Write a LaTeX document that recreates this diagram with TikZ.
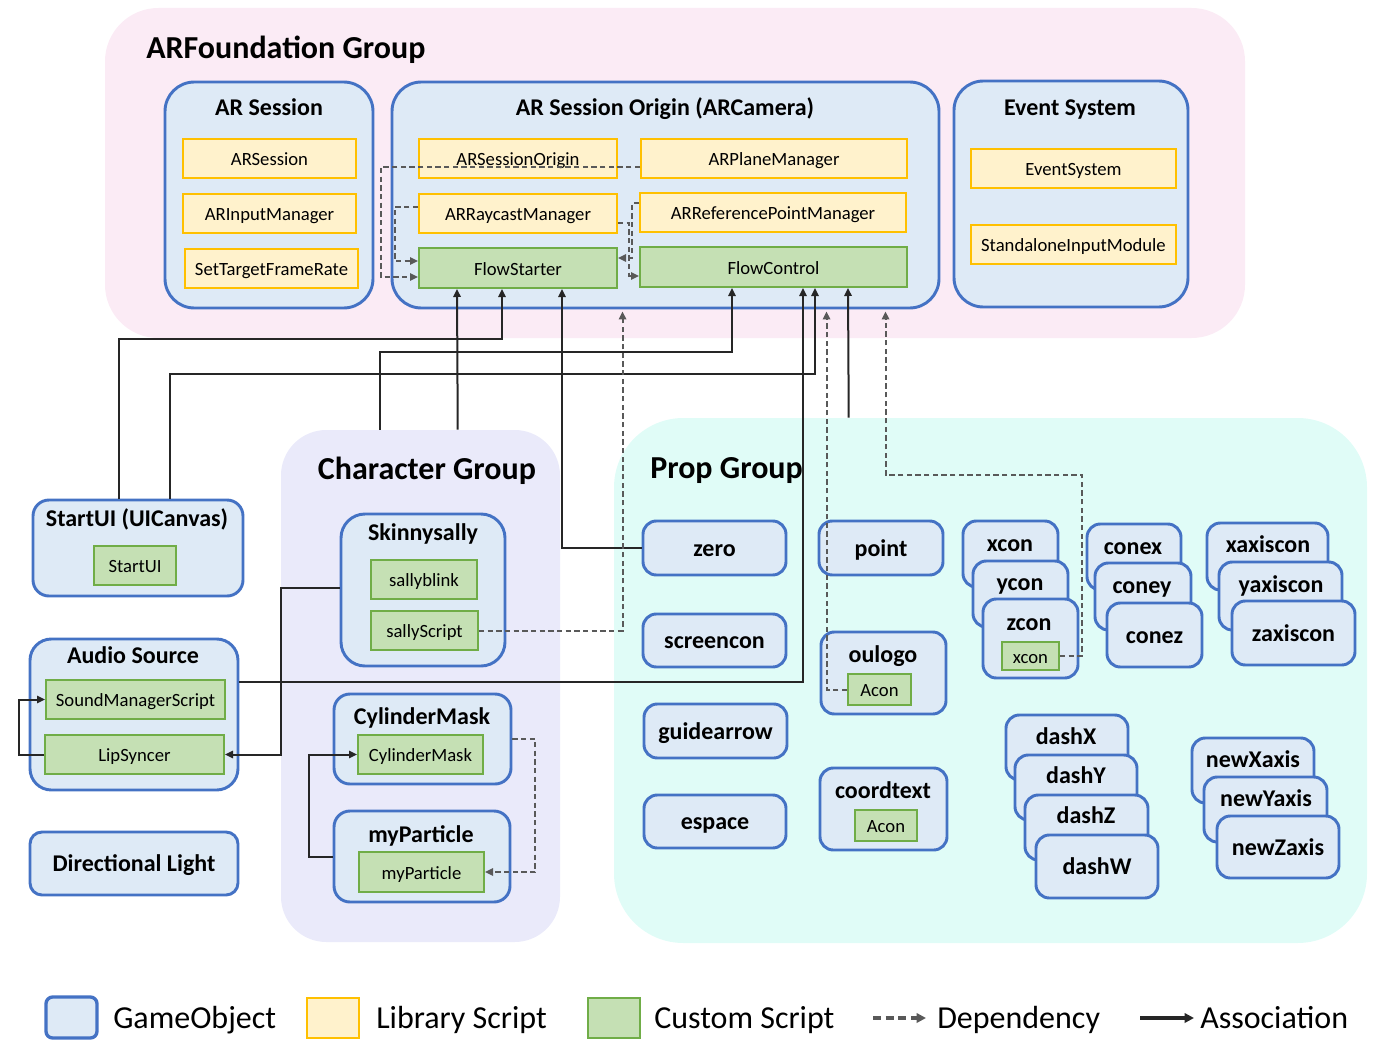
\documentclass[tikz,border=0pt]{standalone}
\usepackage{fontspec}
\setmainfont{Carlito}
\usetikzlibrary{arrows.meta,fit,calc}
\definecolor{pinkbg}{RGB}{251,235,245}
\definecolor{lavbg}{RGB}{234,234,250}
\definecolor{cyanbg}{RGB}{224,252,247}
\definecolor{goF}{RGB}{222,234,246}
\definecolor{goB}{RGB}{68,114,196}
\definecolor{libF}{RGB}{255,242,204}
\definecolor{libB}{RGB}{255,192,0}
\definecolor{cusF}{RGB}{197,224,180}
\definecolor{cusB}{RGB}{112,173,71}
\definecolor{solidc}{RGB}{38,38,38}
\definecolor{dashc}{RGB}{89,89,89}
\newcommand\myttlfont{\fontsize{18pt}{21pt}\selectfont\bfseries}
\newcommand\myscrfont{\fontsize{14pt}{16pt}\selectfont}
\newcommand\mygrpfont{\fontsize{24pt}{28pt}\selectfont\bfseries}
\newcommand\mylegfont{\fontsize{24pt}{28pt}\selectfont}
\tikzset{
  grp/.style={inner sep=0pt, rounded corners=#1},
  gobj/.style={draw=goB, fill=goF, line width=2.2pt, rounded corners=#1, inner sep=0pt},
  gobj/.default=10pt,
  lib/.style={draw=libB, fill=libF, line width=1.5pt, inner sep=0pt},
  cus/.style={draw=cusB, fill=cusF, line width=1.5pt, inner sep=0pt},
  st/.style={font=\myscrfont, inner sep=0pt, text height=12.6pt, text depth=1.4pt},
  tt/.style={font=\myttlfont, inner sep=0pt, text height=15pt, text depth=3pt},
  ttl/.style={font=\myttlfont, anchor=base, yshift=-5.8pt, inner sep=0pt},
  gttl/.style={font=\mygrpfont, anchor=base, yshift=-7.6pt, inner sep=0pt},
  leg/.style={font=\mylegfont, anchor=base west, inner sep=0pt},
  assoc/.style={draw=solidc, line width=1.5pt, -{Triangle[length=6pt,width=5.5pt]}},
  dep/.style={draw=dashc, line width=1.5pt, dash pattern=on 4pt off 2.5pt, -{Triangle[length=6pt,width=5.5pt]}}
}
\begin{document}
\begin{tikzpicture}[x=0.75pt,y=-0.75pt]
\useasboundingbox (0,0) rectangle (1392,1056);
% group backgrounds
\node[grp=40pt, fill=pinkbg, fit={(105,8) (1245,338)}] (arf) {};
\node[grp=34pt, fill=lavbg, fit={(281,430) (560,942)}] (chg) {};
\node[grp=52pt, fill=cyanbg, fit={(614,418) (1367,943)}] (prop) {};
\node[gttl, anchor=base west] (arft) at (146,48) {ARFoundation Group};
\node[gttl] (chgt) at (427,469) {Character Group};
\node[gttl, anchor=base west] (propt) at (650,468) {Prop Group};

% AR Session
\node[gobj=22pt, fit={(165,82) (373,308)}] (arsess) {};
\node[ttl] (arsesst) at (269,108) {AR Session};
\node[lib, fit={(183,139) (356,178)}, label={[st]center:ARSession}] (arsS) {};
\node[lib, fit={(183,194) (356,233)}, label={[st]center:ARInputManager}] (aim) {};
\node[lib, fit={(185,249) (358,288)}, label={[st]center:SetTargetFrameRate}] (stfr) {};

% AR Session Origin
\node[gobj=22pt, fit={(392,82) (939,308)}] (aso) {};
\node[ttl] (asot) at (665,108) {AR Session Origin (ARCamera)};
\node[lib, fit={(419,139) (617,178)}, label={[st]center:ARSessionOrigin}] (asoS) {};
\node[lib, fit={(641,139) (907,178)}, label={[st]center:ARPlaneManager}] (apm) {};
\node[lib, fit={(419,194) (617,233)}, label={[st]center:ARRaycastManager}] (arc) {};
\node[lib, fit={(640,193) (906,232)}, label={[st]center:ARReferencePointManager}] (arp) {};
\node[cus, fit={(419,248) (617,288)}, label={[st]center:FlowStarter}] (fs) {};
\node[cus, fit={(640,247) (907,287)}, label={[st]center:FlowControl}] (fc) {};

% Event System
\node[gobj=22pt, fit={(954,81) (1188,307)}] (evs) {};
\node[ttl] (evst) at (1070,108) {Event System};
\node[lib, fit={(971,149) (1176,188)}, label={[st]center:EventSystem}] (es) {};
\node[lib, fit={(971,225) (1176,264)}, label={[st]center:StandaloneInputModule}] (sim) {};

% StartUI
\node[gobj=12pt, fit={(33,500) (243,596)}] (sui) {};
\node[ttl] (suit) at (137,519) {StartUI (UICanvas)};
\node[cus, fit={(94,546) (176,585)}, label={[st]center:StartUI}] (suiS) {};

% Audio Source
\node[gobj=16pt, fit={(30,639) (238,790)}] (aud) {};
\node[ttl] (audt) at (133,656) {Audio Source};
\node[cus, fit={(46,680) (225,719)}, label={[st]center:SoundManagerScript}] (sms) {};
\node[cus, fit={(45,735) (224,774)}, label={[st]center:LipSyncer}] (lip) {};

% Directional Light
\node[gobj=9pt, fit={(30,832) (238,895)}, label={[tt]center:Directional Light}] (dl) {};

% Character group
\node[gobj=18pt, fit={(341,514) (505,666)}] (sk) {};
\node[ttl] (skt) at (423,533) {Skinnysally};
\node[cus, fit={(371,560) (477,599)}, label={[st]center:sallyblink}] (sb) {};
\node[cus, fit={(371,611) (478,650)}, label={[st]center:sallyScript}] (ss) {};

\node[gobj=12pt, fit={(334,694) (511,784)}] (cyl) {};
\node[ttl] (cylt) at (422,717) {CylinderMask};
\node[cus, fit={(358,735) (483,774)}, label={[st]center:CylinderMask}] (cylS) {};

\node[gobj=12pt, fit={(334,811) (510,902)}] (mp) {};
\node[ttl] (mpt) at (421,835) {myParticle};
\node[cus, fit={(359,852) (484,892)}, label={[st]center:myParticle}] (mpS) {};

% Prop group
\node[gobj, fit={(643,521) (786,575)}, label={[tt]center:zero}] (zero) {};
\node[gobj, fit={(643,614) (786,667)}, label={[tt]center:screencon}] (scr) {};
\node[gobj, fit={(644,704) (787,758)}, label={[tt]center:guidearrow}] (ga) {};
\node[gobj, fit={(644,795) (786,848)}, label={[tt]center:espace}] (esp) {};
\node[gobj, fit={(819,521) (943,575)}, label={[tt]center:point}] (pt) {};

\node[gobj, fit={(821,632) (946,714)}] (oul) {};
\node[ttl] (oult) at (883,655) {oulogo};
\node[cus, fit={(848,674) (911,705)}, label={[st]center:Acon}] (acon1) {};

\node[gobj, fit={(820,768) (947,850)}] (ct) {};
\node[ttl] (ctt) at (883,791) {coordtext};
\node[cus, fit={(855,810) (917,841)}, label={[st]center:Acon}] (acon2) {};

\node[gobj, fit={(963,521) (1058,587)}] (xc) {};
\node[ttl] (xct) at (1010,544) {xcon};
\node[gobj, fit={(973,561) (1068,627)}] (yc) {};
\node[ttl] (yct) at (1020,583) {ycon};
\node[gobj, fit={(983,599) (1078,678)}] (zc) {};
\node[ttl] (zct) at (1029,623) {zcon};
\node[cus, fit={(1002,642) (1059,670)}, label={[st]center:xcon}] (xconS) {};

\node[gobj, fit={(1087,524) (1181,590)}] (cx) {};
\node[ttl] (cxt) at (1133,547) {conex};
\node[gobj, fit={(1095,563) (1191,630)}] (cy) {};
\node[ttl] (cyt) at (1142,586) {coney};
\node[gobj, fit={(1107,603) (1202,667)}, label={[tt]center:conez}] (cz) {};

\node[gobj, fit={(1207,523) (1328,590)}] (xa) {};
\node[ttl] (xat) at (1268,545) {xaxiscon};
\node[gobj, fit={(1219,562) (1342,630)}] (ya) {};
\node[ttl] (yat) at (1281,585) {yaxiscon};
\node[gobj, fit={(1232,601) (1355,665)}, label={[tt]center:zaxiscon}] (za) {};

\node[gobj, fit={(1006,715) (1128,780)}] (dx) {};
\node[ttl] (dxt) at (1066,737) {dashX};
\node[gobj, fit={(1015,755) (1137,820)}] (dy) {};
\node[ttl] (dyt) at (1076,776) {dashY};
\node[gobj, fit={(1025,795) (1148,860)}] (dz) {};
\node[ttl] (dzt) at (1086,816) {dashZ};
\node[gobj, fit={(1036,835) (1158,898)}, label={[tt]center:dashW}] (dw) {};

\node[gobj, fit={(1192,738) (1314,803)}] (nx) {};
\node[ttl] (nxt) at (1253,760) {newXaxis};
\node[gobj, fit={(1204,777) (1327,842)}] (ny) {};
\node[ttl] (nyt) at (1266,799) {newYaxis};
\node[gobj, fit={(1217,816) (1339,878)}, label={[tt]center:newZaxis}] (nz) {};

% connectors inside AR Session Origin
\draw[dep] ($(apm.west)+(0,8.5)$) -- ++(-259,0) |- ($(fs.west)+(0,9)$);
\draw[dep] ($(arc.west)+(0,-6.5)$) -- ++(-23,0) |- ($(fs.west)+(0,-7)$);
\draw[dep] ($(arc.east)+(0,9.5)$) -- ++(11,0) |- ($(fc.west)+(0,9)$);
\draw[dep] ($(arp.west)+(0,-9.5)$) -- ++(-7,0) |- ($(fs.east)+(0,-10)$);

% associations and dependencies
\draw[assoc] ($(sui.north west)+(87,0)$) -- ++(0,-160) -| ($(fs.south west)+(84,0)$);
\draw[assoc] ($(sui.north west)+(138,0)$) -- ++(0,-125) -| ($(fc.south west)+(176,0)$);
\draw[assoc] ($(chg.north west)+(99,0)$) -- ++(0,-78) -| ($(fc.south west)+(93,0)$);
\draw[assoc] ($(chg.north west)+(177,0)$) -- ($(fs.south west)+(39,0)$);
\draw[assoc] (zero.west) -| ($(fs.south west)+(144,0)$);
\draw[dep] (ss.east) -| ($(aso.south west)+(232,2)$);
\draw[assoc] ($(aud.north east)+(0,44)$) -| ($(fc.south west)+(164,0)$);
\draw[assoc] ($(prop.north west)+(235,0)$) -- ($(fc.south west)+(209,0)$);
\draw[dep] (acon1.west) -| ($(aso.south west)+(436,2)$);
\draw[dep] (xconS.east) -| ($(prop.north west)+(468,57)$) -| ($(aso.south west)+(495,2)$);
\draw[assoc] (lip.west) -- ++(-25,0) |- (sms.west);
\draw[assoc] ($(sk.north west)+(0,75)$) -- ++(-59,0) |- (lip.east);
\draw[dep] (cyl.east) -- ++(23,0) |- (mpS.east);
\draw[assoc] (mp.west) -- ++(-24,0) |- (cylS.west);

% legend
\node[gobj=5pt, line width=2.5pt, fit={(46,997) (97,1038)}] (lg1) {};
\node[leg] (lg1t) at (113,1028) {GameObject};
\node[lib, fit={(307,998) (359,1038)}] (lg2) {};
\node[leg] (lg2t) at (376,1028) {Library Script};
\node[cus, fit={(588,998) (640,1038)}] (lg3) {};
\node[leg] (lg3t) at (654,1028) {Custom Script};
\coordinate (d1) at (873,1018);
\coordinate (d2) at (926,1018);
\draw[draw=dashc, line width=3pt, dash pattern=on 6pt off 3.5pt, -{Triangle[length=7pt,width=7pt]}] (d1) -- (d2);
\node[leg] (lg4t) at (937,1028) {Dependency};
\coordinate (a1) at (1140,1018);
\coordinate (a2) at (1194,1018);
\draw[draw=solidc, line width=3pt, -{Triangle[length=7pt,width=7pt]}] (a1) -- (a2);
\node[leg] (lg5t) at (1200,1028) {Association};
\end{tikzpicture}
\end{document}
